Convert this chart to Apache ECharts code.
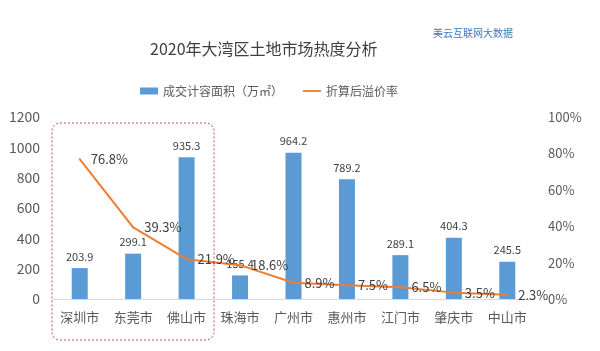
<!DOCTYPE html>
<html><head><meta charset="utf-8">
<script src="https://cdn.jsdelivr.net/npm/echarts@6/dist/echarts.min.js"></script>
<style>html,body{margin:0;padding:0;background:#fff}#c{width:600px;height:351px}</style>
</head><body><div id="c"></div>
<script>
const categories = ['深圳市','东莞市','佛山市','珠海市','广州市','惠州市','江门市','肇庆市','中山市'];
const areaValues = [203.9, 299.1, 935.3, 155.4, 964.2, 789.2, 289.1, 404.3, 245.5];
const premiumRates = [76.8, 39.3, 21.9, 18.6, 8.9, 7.5, 6.5, 3.5, 2.3];
const leftTicks = [0, 1200, 200];
const rightTicks = [0, 100, 20];

const FF = "'Noto Sans CJK SC', 'Noto Sans', sans-serif";
const chart = echarts.init(document.getElementById('c'));
chart.setOption({
  backgroundColor: '#fff',
  animation: false,
  textStyle: { fontFamily: FF },
  title: [{
    text: '2020年大湾区土地市场热度分析',
    left: 145, top: 36,
    textStyle: { fontSize: 16, fontWeight: 'normal', color: '#404040', fontFamily: FF }
  }, {
    text: '美云互联网大数据',
    left: 428, top: 23,
    textStyle: { fontSize: 10, fontWeight: 'normal', color: '#3a78c0', fontFamily: FF }
  }],
  legend: {
    top: 80, left: 135, itemGap: 20, itemWidth: 18, itemHeight: 7,
    textStyle: { fontSize: 12, color: '#595959', fontFamily: FF },
    data: [{ name: '成交计容面积（万㎡）', icon: 'rect' },
           { name: '折算后溢价率', icon: 'path://M0,0 L20,0 L20,2 L0,2 Z', itemStyle: { color: '#ED7D31' } }]
  },
  grid: { left: 53, right: 66, top: 117, bottom: 52 },
  xAxis: {
    type: 'category', data: categories,
    axisLine: { lineStyle: { color: '#d9d9d9' } },
    axisTick: { show: false },
    axisLabel: { fontSize: 13, color: '#595959', margin: 12, fontFamily: FF }
  },
  yAxis: [{
    type: 'value', min: leftTicks[0], max: leftTicks[1], interval: leftTicks[2],
    splitLine: { show: false }, axisLine: { show: false }, axisTick: { show: false },
    axisLabel: { fontSize: 14, color: '#595959', margin: 13, fontFamily: FF, formatter: v => String(v) }
  }, {
    type: 'value', min: rightTicks[0], max: rightTicks[1], interval: rightTicks[2],
    splitLine: { show: false }, axisLine: { show: false }, axisTick: { show: false },
    axisLabel: { fontSize: 13, color: '#595959', margin: 14, formatter: '{value}%', fontFamily: FF }
  }],
  series: [{
    name: '成交计容面积（万㎡）', type: 'bar', data: areaValues, barWidth: 16,
    itemStyle: { color: '#5B9BD5' },
    label: { show: true, position: 'top', distance: 6, fontSize: 11, color: '#404040', fontFamily: FF }
  }, {
    name: '折算后溢价率', type: 'line', yAxisIndex: 1, data: premiumRates,
    showSymbol: true, symbol: 'circle', symbolSize: 2,
    lineStyle: { color: '#ED7D31', width: 2 }, itemStyle: { color: '#ED7D31' },
    label: { show: true, position: 'right', distance: 10, fontSize: 13, color: '#404040',
      formatter: p => p.value.toFixed(1) + '%', fontFamily: FF }
  }],
  graphic: [{
    type: 'rect', z: 100,
    shape: { x: 52, y: 123, width: 162, height: 217, r: 8 },
    style: { fill: 'none', stroke: '#c0504d', lineWidth: 1, lineDash: [2, 2] }
  }]
});
</script></body></html>
